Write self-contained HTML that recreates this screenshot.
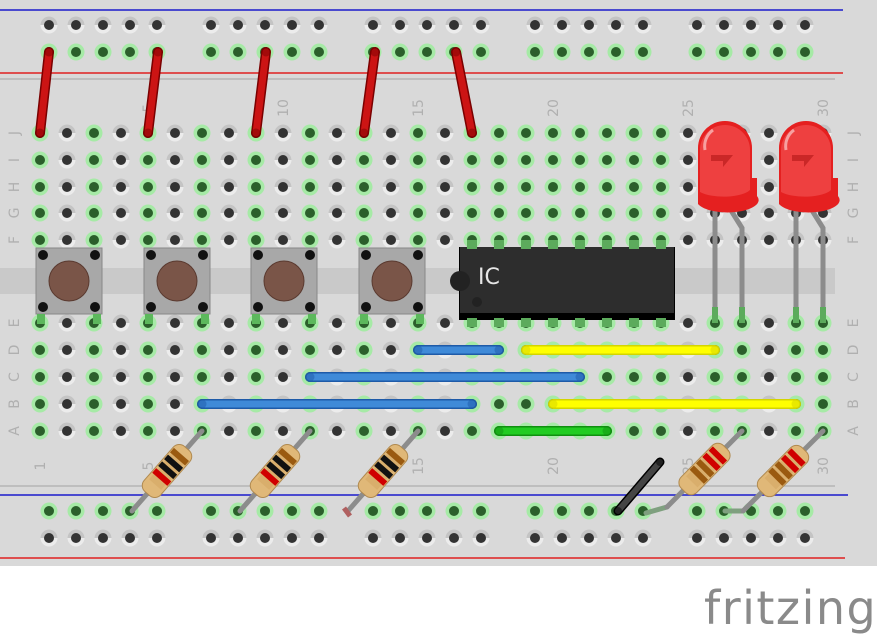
<!DOCTYPE html>
<html><head><meta charset="utf-8"><style>
body{margin:0;width:877px;height:636px;overflow:hidden;background:#fff}
svg{display:block}
text{font-family:"DejaVu Sans","Liberation Sans",sans-serif}
</style></head><body>
<svg id="s" width="877" height="636" xmlns="http://www.w3.org/2000/svg">
<rect x="0" y="0" width="877" height="566" fill="#d9d9d9"/>
<line x1="0" y1="10" x2="843" y2="10" stroke="#1a1acc" stroke-width="1.5"/>
<line x1="0" y1="73" x2="843" y2="73" stroke="#e02020" stroke-width="1.5"/>
<line x1="0" y1="79" x2="835" y2="79" stroke="#b5b5b5" stroke-width="1.5"/>
<line x1="0" y1="486" x2="835" y2="486" stroke="#b5b5b5" stroke-width="1.5"/>
<line x1="0" y1="495" x2="848" y2="495" stroke="#1a1acc" stroke-width="1.5"/>
<line x1="0" y1="558" x2="845" y2="558" stroke="#e02020" stroke-width="1.5"/>
<rect x="0" y="268" width="835" height="26" fill="#c9c9c9"/>
<g id="holes"></g>
<g id="labels" fill="#b0b0b0" font-size="14"></g>
<g id="parts"></g>
<text x="704" y="624" font-size="46" fill="#8a8a8a" font-family="DejaVu Sans, sans-serif" letter-spacing="1.5">fritzing</text>
</svg>
<script>
var NS="http://www.w3.org/2000/svg";
function el(p,t,a,txt){var e=document.createElementNS(NS,t);for(var k in a)e.setAttribute(k,a[k]);if(txt)e.textContent=txt;document.getElementById(p).appendChild(e);return e;}
function hole(x,y,g){
 el("holes","circle",{cx:x,cy:y,r:8.5,fill:g?"#a6eaa6":"#ececec"});
 if(!g)el("holes","path",{d:"M"+(x-8.5)+","+y+" a8.5,8.5 0 0 1 17,0z",fill:"#c4c4c4"});
 el("holes","circle",{cx:x,cy:y,r:5,fill:g?"#2b5f2b":"#333"});
}
function cx(c){return 40+(c-1)*27;}
var topRows=[133,160,187,213,240],botRows=[323,350,377,404,431];
var topG=[1,3,5,7,9,11,13,15,17,18,19,20,21,22,23,24];
var botG=[1,3,5,7,9,11,13,15,17,18,19,20,21,22,23,24,26,27,29,30];
for(var c=1;c<=30;c++){
 topRows.forEach(function(y){hole(cx(c),y,topG.indexOf(c)>=0)});
 botRows.forEach(function(y){hole(cx(c),y,botG.indexOf(c)>=0)});
}
var rx=[];for(var g=0;g<5;g++)for(var i=0;i<5;i++)rx.push(49+g*162+i*27);
rx.forEach(function(x){hole(x,25,false);hole(x,52,true);hole(x,511,true);hole(x,538,false);});
[[1,"1"],[5,"5"],[10,"10"],[15,"15"],[20,"20"],[25,"25"],[30,"30"]].forEach(function(l){
 var x=cx(l[0])+5;
 if(l[0]!=1)el("labels","text",{x:0,y:0,transform:"translate("+x+",108) rotate(-90)","text-anchor":"middle"},l[1]);
 el("labels","text",{x:0,y:0,transform:"translate("+x+",466) rotate(-90)","text-anchor":"middle"},l[1]);
});
var letters=["J","I","H","G","F","E","D","C","B","A"];
topRows.concat(botRows).forEach(function(y,i){
 el("labels","text",{x:0,y:0,transform:"translate(19,"+y+") rotate(-90)","text-anchor":"middle"},letters[i]);
 el("labels","text",{x:0,y:0,transform:"translate(858,"+y+") rotate(-90)","text-anchor":"middle"},letters[i]);
});
function wire(x1,y1,x2,y2,col,dark,w){
 el("parts","line",{x1:x1,y1:y1,x2:x2,y2:y2,stroke:dark,"stroke-width":w+3,"stroke-linecap":"round"});
 el("parts","line",{x1:x1,y1:y1,x2:x2,y2:y2,stroke:col,"stroke-width":w,"stroke-linecap":"round"});
 el("parts","circle",{cx:x1,cy:y1,r:w/2+1,fill:dark,opacity:0.5});
 el("parts","circle",{cx:x2,cy:y2,r:w/2+1,fill:dark,opacity:0.5});
}
[[49,40],[158,148],[266,256],[375,364],[456,472]].forEach(function(p){wire(p[0],52,p[1],133,"#cc1414","#7a0000",7);});
[36,144,251,359].forEach(function(x){
 el("parts","rect",{x:x,y:248,width:66,height:66,fill:"#a8a8a8",stroke:"#888","stroke-width":1});
 el("parts","circle",{cx:x+33,cy:281,r:20,fill:"#7a5548",stroke:"#5a3a30","stroke-width":1});
 [[x+7,255],[x+59,255],[x+7,307],[x+59,307]].forEach(function(p){el("parts","circle",{cx:p[0],cy:p[1],r:5,fill:"#111"})});
 el("parts","rect",{x:x+1,y:314,width:8,height:10,fill:"#5cb85c"});
 el("parts","rect",{x:x+57,y:314,width:8,height:10,fill:"#5cb85c"});
});
el("parts","rect",{x:459,y:247,width:216,height:73,fill:"#000"});
el("parts","rect",{x:460,y:247,width:214,height:66,fill:"#2d2d2d"});
el("parts","circle",{cx:460,cy:281,r:10,fill:"#222"});
el("parts","circle",{cx:477,cy:302,r:5,fill:"#222"});
el("parts","text",{x:478,y:284,"font-size":22,fill:"#e6e6e6","font-family":"DejaVu Sans Mono, Liberation Mono, monospace"},"IC");
for(var c=17;c<=24;c++){el("parts","rect",{x:cx(c)-5,y:240,width:10,height:9,fill:"#5cab5c"});el("parts","rect",{x:cx(c)-5,y:318,width:10,height:9,fill:"#5cab5c"});}
wire(418,350,499,350,"#3f8ad8","#1e5aa8",7);
wire(310,377,580,377,"#3f8ad8","#1e5aa8",7);
wire(202,404,472,404,"#3f8ad8","#1e5aa8",7);
wire(526,350,715,350,"#ffff00","#d4d400",7);
wire(553,404,796,404,"#ffff00","#d4d400",7);
wire(499,431,607,431,"#22cc22","#109010",7);
wire(660,462,618,511,"#444","#000",6);
function led(x,x1,x2){
 el("parts","polyline",{points:x1+",205 "+x1+",323",fill:"none",stroke:"#8c8c8c","stroke-width":5});
 el("parts","polyline",{points:(x2-10)+",205 "+(x2-10)+",212 "+x2+",228 "+x2+",323",fill:"none",stroke:"#8c8c8c","stroke-width":5});
 el("parts","rect",{x:x1-3,y:307,width:6,height:16,fill:"#5cab5c"});
 el("parts","rect",{x:x2-3,y:307,width:6,height:16,fill:"#5cab5c"});
 el("parts","path",{d:"M"+(x-27)+",148 a27,27 0 0 1 54,0 v30 h5 v18 a30,12 0 0 1 -59,8 z",fill:"#e52020"});
 el("parts","path",{d:"M"+(x-25)+",150 a25,25 0 0 1 50,0 v40 a28,10 0 0 1 -50,2 z",fill:"#ee4040"});
 el("parts","path",{d:"M"+(x-14)+",155 h22 l-10,12 v-6 h-12z",fill:"#c02020",opacity:0.8});
 el("parts","path",{d:"M"+(x-20)+",150 a20,20 0 0 1 8,-20",stroke:"#f7a0a0","stroke-width":3,fill:"none"});
}
led(725,715,742);led(806,796,823);
function res(x1,y1,x2,y2,bands,bend){
 if(bend)el("parts","polyline",{points:bend,fill:"none",stroke:"#7fa07f","stroke-width":5,"stroke-linecap":"round"});
 el("parts","line",{x1:x1,y1:y1,x2:x2,y2:y2,stroke:"#8c8c8c","stroke-width":5,"stroke-linecap":"round"});
 var mx=(x1+x2)/2,my=(y1+y2)/2,a=Math.atan2(y2-y1,x2-x1)*180/Math.PI;
 var g=el("parts","g",{transform:"translate("+mx+","+my+") rotate("+a+")"});
 function a2(t,at){var e=document.createElementNS(NS,t);for(var k in at)e.setAttribute(k,at[k]);g.appendChild(e);}
 a2("rect",{x:-30,y:-11,width:60,height:22,rx:8,fill:"#e0b878",stroke:"#b08a50","stroke-width":1});
 a2("rect",{x:-18,y:-8,width:36,height:16,fill:"#d9ae6c"});
 bands.forEach(function(b,i){a2("rect",{x:-22+i*9,y:-10,width:6,height:20,fill:b});});
}
res(202,431,132,511,["#9a5a10","#111","#111","#d00000"]);
res(310,431,240,511,["#9a5a10","#111","#111","#d00000"]);
res(418,431,348,511,["#9a5a10","#111","#111","#d00000"]);
el("parts","line",{x1:344,y1:508,x2:350,y2:516,stroke:"#b06060","stroke-width":5});
res(742,431,667,507,["#d00000","#d00000","#9a5a10","#9a5a10"],"667,507 646,513");
res(823,431,743,511,["#d00000","#d00000","#9a5a10","#9a5a10"],"743,511 725,511");
</script>
</body></html>
